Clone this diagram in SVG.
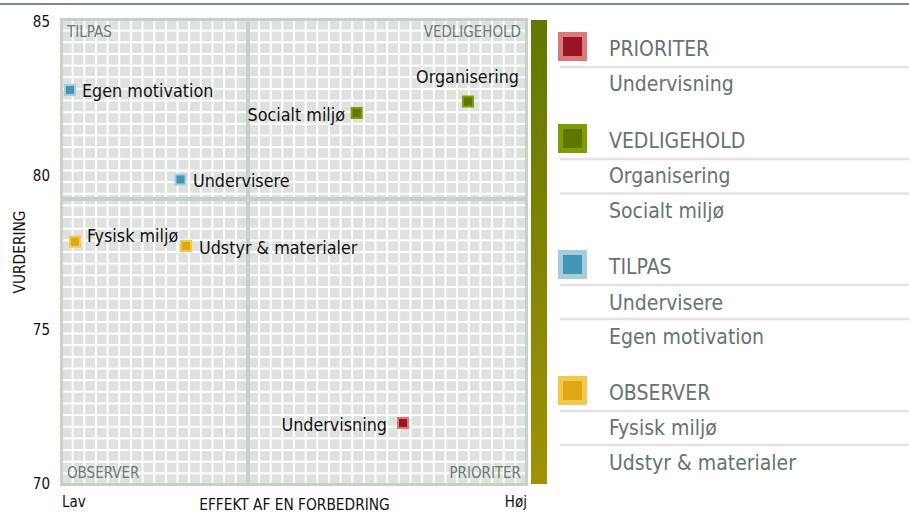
<svg xmlns="http://www.w3.org/2000/svg" width="909" height="514" viewBox="0 0 909 514">
<style>
text{font-family:"DejaVu Sans Condensed","DejaVu Sans","Liberation Sans",sans-serif;}
.ax{font-size:15px;fill:#111;}
.ttl{font-size:15.3px;fill:#111;}
.q{font-size:15px;fill:#6b7a74;}
.lbl{font-size:17.8px;fill:#111;}
.lg{font-size:21px;fill:#66736e;}
.sep{stroke:#e3e3e3;stroke-width:2.5;}
.mid{stroke:#c6d2c8;stroke-width:4;}
.pr{fill:#9b1426;stroke:#d97a7a;stroke-width:2;}
.ve{fill:#5f7600;stroke:#7e9d00;stroke-width:2;}
.ti{fill:#4096b4;stroke:#a6cdd9;stroke-width:2;}
.ob{fill:#e0a812;stroke:#f2c94c;stroke-width:2;}
</style>
<defs>
<pattern id="grid" patternUnits="userSpaceOnUse" x="60" y="18" width="11.65" height="11.65">
<rect width="11.65" height="11.65" fill="#dde2df"/>
<rect width="2" height="11.65" fill="#ffffff"/>
<rect width="11.65" height="2" fill="#ffffff"/>
</pattern>
<linearGradient id="bar" x1="0" y1="0" x2="0" y2="1">
<stop offset="0" stop-color="#617800"/>
<stop offset="1" stop-color="#a09208"/>
</linearGradient>
</defs>
<rect width="909" height="514" fill="#ffffff"/>
<line x1="0" y1="4" x2="909" y2="4" stroke="#7f8b86" stroke-width="2"/>

<g id="plot">
<rect x="61.5" y="19.5" width="465" height="465" fill="url(#grid)" stroke="#c6d2c8" stroke-width="3"/>
<line class="mid" x1="248" y1="19" x2="248" y2="485"/>
<line class="mid" x1="61" y1="199" x2="527" y2="199"/>
<text class="q" x="67" y="37">TILPAS</text>
<text class="q" x="521" y="37" text-anchor="end">VEDLIGEHOLD</text>
<text class="q" x="67" y="478">OBSERVER</text>
<text class="q" x="521" y="478" text-anchor="end">PRIORITER</text>
</g>

<g id="axes">
<text class="ax" x="50" y="27" text-anchor="end">85</text>
<text class="ax" x="50" y="181" text-anchor="end">80</text>
<text class="ax" x="50" y="335" text-anchor="end">75</text>
<text class="ax" x="50" y="489" text-anchor="end">70</text>
<text class="ax" x="62" y="507">Lav</text>
<text class="ax" x="527" y="507" text-anchor="end">Høj</text>
<text class="ttl" x="294.5" y="509.5" text-anchor="middle">EFFEKT AF EN FORBEDRING</text>
<text class="ttl" transform="translate(25,252) rotate(-90)" text-anchor="middle">VURDERING</text>
</g>

<rect id="colorbar" x="531" y="20" width="16" height="464" fill="url(#bar)"/>

<g id="node-egen-motivation">
<rect class="ti" x="65" y="85" width="10" height="10"/>
<text class="lbl" x="82" y="97">Egen motivation</text>
</g>
<g id="node-organisering">
<rect class="ve" x="463" y="96.5" width="10" height="10"/>
<text class="lbl" x="519" y="83" text-anchor="end">Organisering</text>
</g>
<g id="node-socialt-miljo">
<rect class="ve" x="351.7" y="108" width="10" height="10"/>
<text class="lbl" x="345" y="121" text-anchor="end">Socialt miljø</text>
</g>
<g id="node-undervisere">
<rect class="ti" x="175.5" y="174.5" width="10" height="10"/>
<text class="lbl" x="193" y="187">Undervisere</text>
</g>
<g id="node-fysisk-miljo">
<rect class="ob" x="70" y="236.7" width="10" height="10"/>
<text class="lbl" x="87" y="242">Fysisk miljø</text>
</g>
<g id="node-udstyr">
<rect class="ob" x="181" y="241" width="10" height="10"/>
<text class="lbl" x="199" y="254">Udstyr &amp; materialer</text>
</g>
<g id="node-undervisning">
<rect class="pr" x="398" y="418" width="10" height="10"/>
<text class="lbl" x="387" y="431" text-anchor="end">Undervisning</text>
</g>

<g id="legend-prioriter">
<rect x="558" y="32" width="29" height="29" fill="#d97a7a"/>
<rect x="563" y="37" width="19" height="19" fill="#9b1426"/>
<text class="lg" x="609" y="56">PRIORITER</text>
<line class="sep" x1="560" y1="67" x2="909" y2="67"/>
<text class="lg" x="609" y="91">Undervisning</text>
</g>
<g id="legend-vedligehold">
<rect x="558" y="124" width="29" height="29" fill="#7e9d00"/>
<rect x="563" y="129" width="19" height="19" fill="#5f7600"/>
<text class="lg" x="609" y="148">VEDLIGEHOLD</text>
<line class="sep" x1="560" y1="159" x2="909" y2="159"/>
<text class="lg" x="609" y="183">Organisering</text>
<line class="sep" x1="560" y1="193.5" x2="909" y2="193.5"/>
<text class="lg" x="609" y="218">Socialt miljø</text>
</g>
<g id="legend-tilpas">
<rect x="558" y="250" width="29" height="29" fill="#a6cdd9"/>
<rect x="563" y="255" width="19" height="19" fill="#4096b4"/>
<text class="lg" x="609" y="274">TILPAS</text>
<line class="sep" x1="560" y1="285" x2="909" y2="285"/>
<text class="lg" x="609" y="309.5">Undervisere</text>
<line class="sep" x1="560" y1="319" x2="909" y2="319"/>
<text class="lg" x="609" y="343.5">Egen motivation</text>
</g>
<g id="legend-observer">
<rect x="558" y="376" width="29" height="29" fill="#f2c94c"/>
<rect x="563" y="381" width="19" height="19" fill="#e0a812"/>
<text class="lg" x="609" y="400">OBSERVER</text>
<line class="sep" x1="560" y1="411" x2="909" y2="411"/>
<text class="lg" x="609" y="435">Fysisk miljø</text>
<line class="sep" x1="560" y1="445" x2="909" y2="445"/>
<text class="lg" x="609" y="470">Udstyr &amp; materialer</text>
</g>
</svg>
